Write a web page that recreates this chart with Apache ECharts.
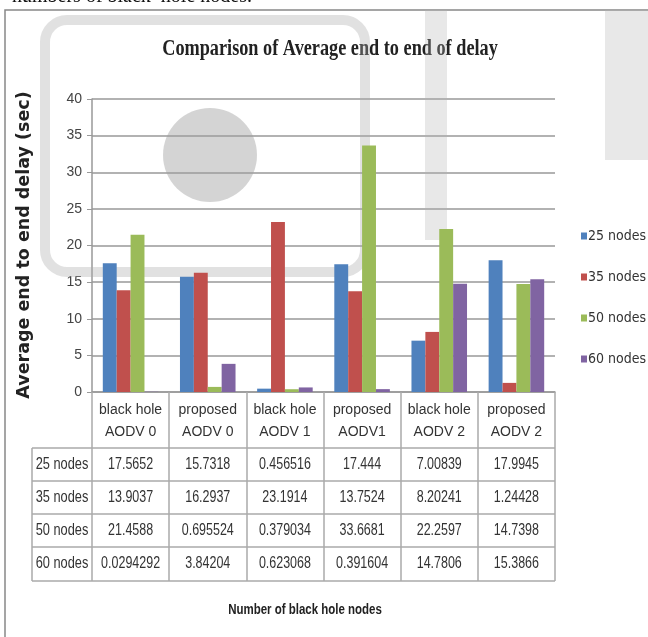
<!DOCTYPE html>
<html>
<head>
<meta charset="utf-8">
<script src="https://cdn.jsdelivr.net/npm/echarts@6/dist/echarts.min.js"></script>
<style>
html, body { margin: 0; padding: 0; background: #fff; }
#chart { width: 648px; height: 637px; }
</style>
</head>
<body>
<div id="chart"></div>
<script>
// categories (x axis / table header)
const categories = ['black hole\nAODV 0', 'proposed\nAODV 0', 'black hole\nAODV 1', 'proposed\nAODV1', 'black hole\nAODV 2', 'proposed\nAODV 2'];
const seriesNames = ['25 nodes', '35 nodes', '50 nodes', '60 nodes'];
const nodes25 = [17.5652, 15.7318, 0.456516, 17.444, 7.00839, 17.9945];
const nodes35 = [13.9037, 16.2937, 23.1914, 13.7524, 8.20241, 1.24428];
const nodes50 = [21.4588, 0.695524, 0.379034, 33.6681, 22.2597, 14.7398];
const nodes60 = [0.0294292, 3.84204, 0.623068, 0.391604, 14.7806, 15.3866];
const seriesData = [nodes25, nodes35, nodes50, nodes60];
const colors = ['#4F81BD', '#C0504D', '#9BBB59', '#8064A2'];

const narrow = '"DejaVu Sans Condensed", "Liberation Sans", sans-serif';
const plain = '"Liberation Sans", sans-serif';

let myChart = echarts.init(document.getElementById('chart'));

let option = {
    animation: false,
    grid: { left: 92, right: 93, top: 99, bottom: 245, containLabel: false },
    legend: {
        orient: 'vertical',
        left: 576,
        top: 224,
        itemWidth: 6,
        itemHeight: 7,
        itemGap: 27,
        icon: 'rect',
        textStyle: { fontFamily: narrow, fontSize: 14, color: '#333', padding: [0, 0, 0, -4] },
        data: seriesNames
    },
    xAxis: {
        type: 'category',
        data: categories,
        axisLine: { lineStyle: { color: '#999', width: 1.5 } },
        axisTick: { show: true, length: 189, lineStyle: { color: '#aaa', width: 1.5 } },
        axisLabel: { interval: 0, fontFamily: plain, fontSize: 14, lineHeight: 22, color: '#333', margin: 7 }
    },
    yAxis: {
        type: 'value',
        min: 0,
        max: 40,
        interval: 5,
        axisLine: { show: true, lineStyle: { color: '#999', width: 1.5 } },
        axisTick: { show: true, length: 5, lineStyle: { color: '#999' } },
        axisLabel: { fontFamily: plain, fontSize: 14, color: '#444', margin: 10 },
        splitLine: { lineStyle: { color: '#999', width: 1.5 } }
    },
    series: seriesNames.map(function (name, i) {
        return {
            name: name,
            type: 'bar',
            data: seriesData[i],
            barGap: '0%',
            barCategoryGap: '28%',
            itemStyle: { color: colors[i] }
        };
    })
};

myChart.setOption(option);

// build the data table under the axis from the same arrays
let xs = categories.map(function (c) { return myChart.convertToPixel({ xAxisIndex: 0 }, c); });
let band = xs[1] - xs[0];
let tableLeft = 32;
let tableRight = xs[xs.length - 1] + band / 2;
let colLeft = xs[0] - band / 2;
let rowLines = [448, 481, 514, 547, 581];

let graphics = [];

// watermark-like grey shapes from the scan
graphics.push({ type: 'rect', z: 1, shape: { x: 45, y: 20, width: 320, height: 252, r: 22 },
    style: { fill: 'none', stroke: 'rgba(170,170,170,0.35)', lineWidth: 10 } });
graphics.push({ type: 'circle', z: 1, shape: { cx: 210, cy: 155, r: 47 },
    style: { fill: 'rgba(160,160,160,0.45)' } });
graphics.push({ type: 'rect', z: 1, shape: { x: 425, y: 10, width: 22, height: 230 },
    style: { fill: 'rgba(180,180,180,0.3)' } });
graphics.push({ type: 'rect', z: 1, shape: { x: 605, y: 10, width: 43, height: 150 },
    style: { fill: 'rgba(180,180,180,0.3)' } });

// outer frame and clipped text above it
graphics.push({ type: 'rect', shape: { x: 5, y: 10, width: 660, height: 650 },
    style: { fill: 'none', stroke: '#888', lineWidth: 1.5 } });
graphics.push({ type: 'text', x: 12, y: 7,
    style: { text: 'numbers of black  hole nodes.', font: '20px "Liberation Serif", serif', fill: '#111', textAlign: 'left', textVerticalAlign: 'bottom' } });

// title
graphics.push({ type: 'text', x: 330, y: 49, scaleX: 0.76,
    style: { text: 'Comparison of Average end to end of delay', font: 'bold 24px "Liberation Serif", serif', fill: '#222', textAlign: 'center', textVerticalAlign: 'middle' } });

// y axis title
graphics.push({ type: 'text', x: 24, y: 245, rotation: Math.PI / 2,
    style: { text: 'Average end to end delay (sec)', font: 'bold 17.5px "DejaVu Sans", sans-serif', fill: '#222', textAlign: 'center', textVerticalAlign: 'middle' } });

// x axis title
graphics.push({ type: 'text', x: 305, y: 610, scaleX: 0.82,
    style: { text: 'Number of black hole nodes', font: 'bold 14px "Liberation Sans", sans-serif', fill: '#222', textAlign: 'center', textVerticalAlign: 'middle' } });

// table lines
rowLines.forEach(function (y) {
    graphics.push({ type: 'line', shape: { x1: tableLeft, y1: y, x2: tableRight, y2: y },
        style: { stroke: '#aaa', lineWidth: 1.5 } });
});
graphics.push({ type: 'line', shape: { x1: tableLeft, y1: rowLines[0], x2: tableLeft, y2: rowLines[4] },
    style: { stroke: '#aaa', lineWidth: 1.5 } });

// table text
const cellFont = '16px "Liberation Sans", sans-serif';
seriesNames.forEach(function (name, r) {
    let cy = (rowLines[r] + rowLines[r + 1]) / 2;
    graphics.push({ type: 'text', x: (tableLeft + colLeft) / 2, y: cy, scaleX: 0.8,
        style: { text: name, font: cellFont, fill: '#333', textAlign: 'center', textVerticalAlign: 'middle' } });
    seriesData[r].forEach(function (v, c) {
        graphics.push({ type: 'text', x: xs[c], y: cy, scaleX: 0.78,
            style: { text: String(v), font: cellFont, fill: '#333', textAlign: 'center', textVerticalAlign: 'middle' } });
    });
});

myChart.setOption({ graphic: graphics });

window.addEventListener('resize', function () {
    myChart.resize();
});
</script>
</body>
</html>
